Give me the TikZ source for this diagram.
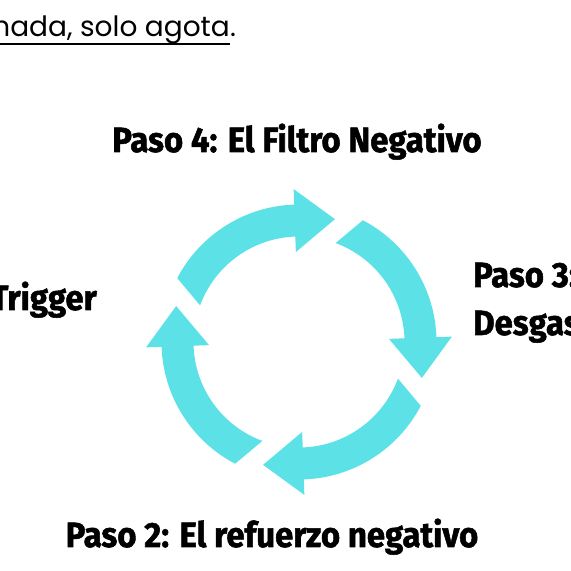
\documentclass[tikz,border=0pt]{standalone}
\usepackage{fontspec}
\setmainfont{Poppins}
\newfontfamily\stepfont[FakeStretch=0.94,FakeBold=1.5]{Fira Sans}
\usepackage{xcolor}
\usetikzlibrary{positioning}
\definecolor{cycleblue}{HTML}{5CE1E6}

\begin{document}
\begin{tikzpicture}[x=1pt,y=1pt,
  step node/.style={inner sep=0pt,font=\stepfont\bfseries\fontsize{35}{40}\selectfont},
  quote node/.style={inner sep=0pt,font=\fontsize{28}{32}\selectfont},
  cycle arrow/.style={fill=cycleblue,draw=none}]
  \useasboundingbox (0,0) rectangle (571,571);
  \clip (0,0) rectangle (571,571);

  \node[quote node,anchor=base east] (quote) at (230,534) {nada, solo agota};
  \node[quote node,anchor=base west] (dot) at (quote.base east) {.};
  \draw[line width=2.4pt] ([yshift=-7pt]quote.base west) -- ([yshift=-7pt]quote.base east);

  \foreach \k in {0,...,3}
    \fill[cycle arrow,shift={(299,229)},rotate=-90*\k]
      (152.3:137.5) arc[start angle=152.3,end angle=92,radius=137.5]
      -- (92:153) -- (73.7:128) -- (92:90) -- (92:105.5)
      arc[start angle=92,end angle=159.7,radius=105.5] -- cycle;

  \node[step node,anchor=base] (step4) at (297,419) {Paso 4: El Filtro Negativo};
  \node[step node,anchor=base west] (step3) at (473,284) {Paso 3:};
  \node[step node,anchor=base west] (step3b) at ([yshift=-48pt]step3.base west) {Desgas};
  \node[step node,anchor=base] (step2) at (272,24) {Paso 2: El refuerzo negativo};
  \node[step node,anchor=base east] (step1) at (97,261) {Trigger};
\end{tikzpicture}
\end{document}
